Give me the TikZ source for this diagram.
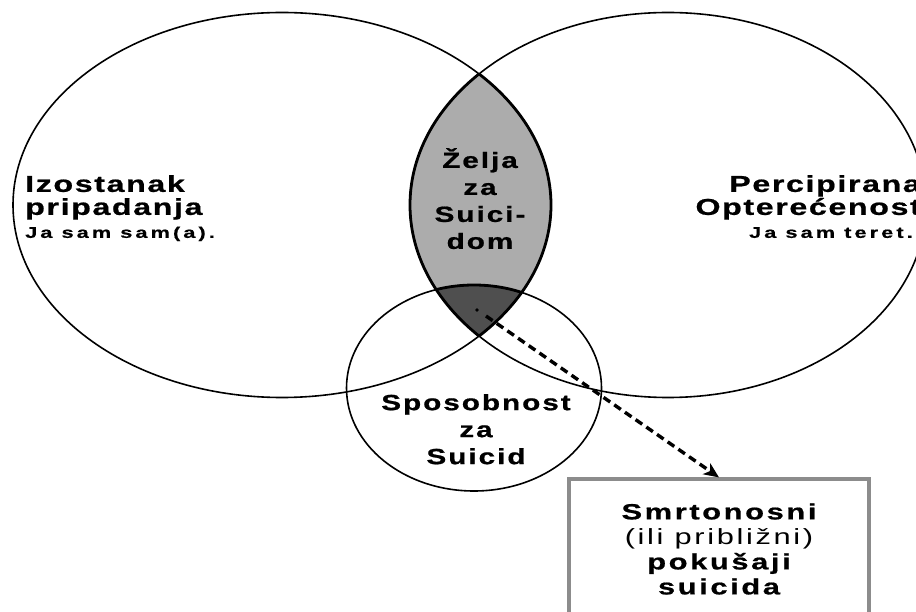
\documentclass[tikz,border=0pt]{standalone}
\usepackage{fontspec}
\setmainfont{Liberation Sans}
% wide, tracked sans for the labels
\newfontfamily\widefont{Liberation Sans}[FakeStretch=1.4,LetterSpace=7,BoldFeatures={FakeBold=0.8}]
\newfontfamily\notefont{Liberation Sans}[FakeStretch=1.4,LetterSpace=20,BoldFeatures={FakeBold=0.6}]
\newfontfamily\boxfont{Liberation Sans}[FakeStretch=1.4,LetterSpace=12,BoldFeatures={FakeBold=0.8}]
\newfontfamily\midfont{Liberation Sans}[FakeStretch=1.35,LetterSpace=9,BoldFeatures={FakeBold=0.8}]
\usetikzlibrary{arrows.meta}

\definecolor{lensgray}{HTML}{ACACAC}
\definecolor{coregray}{HTML}{4F4F4F}
\definecolor{boxgray}{HTML}{8C8C8C}

\newcommand{\noteline}[1]{{\notefont\bfseries\fontsize{15.5}{20}\selectfont #1}}

\tikzset{
  setline/.style={draw=black,line width=1.6pt},
  rimline/.style={draw=black,line width=2.8pt},
  sidelabel/.style={inner sep=0pt,font=\widefont\bfseries\fontsize{23}{23}\selectfont},
  innerlabel/.style={inner sep=0pt,align=center,font=\midfont\bfseries\fontsize{22}{27}\selectfont},
  outcomebox/.style={draw=boxgray,line width=3.2pt,fill=white,inner sep=0pt,
    minimum width=300pt,minimum height=140pt,align=center,
    font=\boxfont\fontsize{22}{25}\selectfont},
  dasharrow/.style={line width=3.4pt,dash pattern=on 8pt off 5pt,
    -{Stealth[length=15pt,width=13pt,inset=4pt]}}
}

\begin{document}
\begin{tikzpicture}[x=1pt,y=-1pt]
\useasboundingbox (0,0) rectangle (916,612);
\fill[white] (0,0) rectangle (916,612);

% centres of the three sets
\coordinate (cL) at (282,205);
\coordinate (cR) at (668,205);
\coordinate (cC) at (474,388);
\def\leftset{(cL) ellipse [x radius=269pt,y radius=192.5pt]}
\def\rightset{(cR) ellipse [x radius=258pt,y radius=192.5pt]}
\def\capset{(cC) ellipse [x radius=127.5pt,y radius=103pt]}

% overlap of the two large sets, and of all three
\begin{scope}
  \clip \leftset;
  \fill[lensgray] \rightset;
\end{scope}
\begin{scope}
  \clip \leftset;
  \clip \rightset;
  \fill[coregray] \capset;
\end{scope}

% outlines
\draw[setline] \leftset;
\draw[setline] \rightset;
\draw[setline] \capset;
\begin{scope}
  \clip \leftset;
  \draw[rimline] \rightset;
\end{scope}
\begin{scope}
  \clip \rightset;
  \draw[rimline] \leftset;
\end{scope}
\begin{scope}
  \clip \leftset;
  \clip \rightset;
  \draw[rimline] \capset;
\end{scope}

% labels
\node[sidelabel,align=left,anchor=north west] (belong) at (25,175)
  {Izostanak\\pripadanja\\\noteline{Ja sam sam(a).}};
\node[sidelabel,align=right,anchor=north east] (burden) at (921,175)
  {Percipirana\\Optere\'{c}enost\\\noteline{Ja sam teret.\hspace*{8pt}}};
\node[innerlabel,anchor=north] (desire) at (480,148)
  {\v{Z}elja\\za\\Suici-\\dom};
\node[innerlabel,anchor=north] (capab) at (476,394)
  {Sposobnost\\za\\Suicid};

% outcome box
\node[outcomebox] (outcome) at (719,549)
  {\bfseries Smrtonosni\\(ili pribli\v{z}ni)\\\bfseries poku\v{s}aji\\\bfseries suicida};

% arrow from the core region to the outcome
\coordinate (core) at (477,310);
\fill (core) circle (1.8pt);
\coordinate (start) at (486,316);
\draw[dasharrow] (start) -- (outcome.north);
\end{tikzpicture}
\end{document}
